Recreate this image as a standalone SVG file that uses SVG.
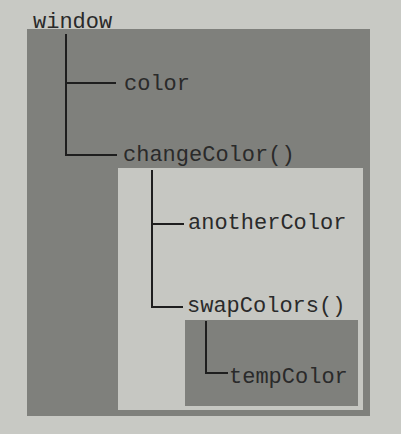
<svg xmlns="http://www.w3.org/2000/svg" width="401" height="434" viewBox="0 0 401 434">
<style>
.lbl{font-family:"Liberation Mono","Courier New",monospace;font-size:22px;fill:#2a2a2a}
.dark{fill:#7f807c}
.light{fill:#c6c7c2}
.tree{fill:none;stroke:#1e1e1e;stroke-width:2}
</style>
<rect width="401" height="434" fill="#c8c9c4"/>
<g id="window">
<rect class="dark" x="27" y="29" width="343" height="387"/>
<text class="lbl" x="33" y="28">window</text>
</g>
<g id="color"><text class="lbl" x="124" y="90">color</text></g>
<g id="changeColor">
<rect class="light" x="118" y="168" width="245" height="242"/>
<text class="lbl" x="123" y="161">changeColor()</text>
</g>
<g id="anotherColor"><text class="lbl" x="188" y="229">anotherColor</text></g>
<g id="swapColors">
<rect class="dark" x="185" y="320" width="173" height="86"/>
<text class="lbl" x="187" y="312">swapColors()</text>
</g>
<g id="tempColor"><text class="lbl" x="229" y="383">tempColor</text></g>
<g id="connectors">
<path class="tree" d="M66,34 V155 H117 M66,83 H116"/>
<path class="tree" d="M152,170 V307 H183 M152,224 H184"/>
<path class="tree" d="M206,321 V373 H228"/>
</g>
</svg>
